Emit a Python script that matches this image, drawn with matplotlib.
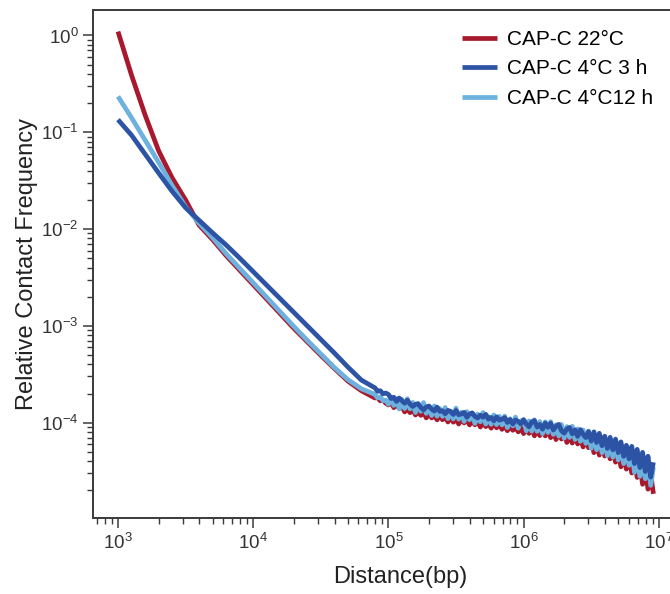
import numpy as np
import matplotlib
matplotlib.use('Agg')
import matplotlib.pyplot as plt

plt.rcParams['font.family'] = ['Liberation Sans', 'DejaVu Sans']
plt.rcParams['mathtext.fontset'] = 'custom'
plt.rcParams['mathtext.rm'] = 'Liberation Sans'
plt.rcParams['mathtext.it'] = 'Liberation Sans:italic'
plt.rcParams['mathtext.bf'] = 'Liberation Sans:bold'
plt.rcParams['axes.unicode_minus'] = False

# ---- data: log10(distance, bp) and log10(relative contact frequency) ----
log_distance = [
    3.0, 3.1, 3.2, 3.3, 3.4, 3.5, 3.6, 3.7, 3.8, 3.9, 4.0, 4.1, 4.2, 4.3, 4.4, 4.5,
    4.6, 4.7, 4.8,
    4.90, 4.92, 4.94, 4.96, 4.98, 5.00, 5.02, 5.04, 5.06, 5.08,
    5.10, 5.12, 5.14, 5.16, 5.18, 5.20, 5.22, 5.24, 5.26, 5.28,
    5.30, 5.32, 5.34, 5.36, 5.38, 5.40, 5.42, 5.44, 5.46, 5.48,
    5.50, 5.52, 5.54, 5.56, 5.58, 5.60, 5.62, 5.64, 5.66, 5.68,
    5.70, 5.72, 5.74, 5.76, 5.78, 5.80, 5.82, 5.84, 5.86, 5.88,
    5.90, 5.92, 5.94, 5.96, 5.98, 6.00, 6.02, 6.04, 6.06, 6.08,
    6.10, 6.12, 6.14, 6.16, 6.18, 6.20, 6.22, 6.24, 6.26, 6.28,
    6.30, 6.32, 6.34, 6.36, 6.38, 6.40, 6.42, 6.44, 6.46, 6.48,
    6.50, 6.52, 6.54, 6.56, 6.58, 6.60, 6.62, 6.64, 6.66, 6.68,
    6.70, 6.72, 6.74, 6.76, 6.78, 6.80, 6.82, 6.84, 6.86, 6.88,
    6.90, 6.92, 6.94, 6.96,
]

log_freq_22C = [
    0.040, -0.410, -0.820, -1.190, -1.470, -1.700, -1.960, -2.110, -2.275, -2.425,
    -2.575, -2.725, -2.875, -3.025, -3.165, -3.305, -3.440, -3.570, -3.670,
    -3.745, -3.741, -3.775, -3.767, -3.799, -3.817, -3.791, -3.845, -3.810, -3.854,
    -3.825, -3.889, -3.856, -3.897, -3.864, -3.921, -3.887, -3.925, -3.885, -3.951,
    -3.909, -3.951, -3.927, -3.971, -3.927, -3.970, -3.939, -3.993, -3.949, -3.995,
    -3.963, -4.014, -3.963, -4.003, -3.965, -4.023, -3.984, -4.023, -3.983, -4.045,
    -3.997, -4.041, -4.011, -4.057, -4.006, -4.053, -4.019, -4.069, -4.033, -4.083,
    -4.033, -4.079, -4.047, -4.095, -4.053, -4.113, -4.049, -4.111, -4.047, -4.136,
    -4.070, -4.134, -4.065, -4.137, -4.069, -4.155, -4.093, -4.175, -4.098, -4.169,
    -4.115, -4.205, -4.137, -4.211, -4.134, -4.220, -4.161, -4.251, -4.169, -4.259,
    -4.185, -4.310, -4.210, -4.335, -4.222, -4.345, -4.234, -4.374, -4.264, -4.408,
    -4.310, -4.456, -4.333, -4.480, -4.356, -4.520, -4.383, -4.566, -4.439, -4.637,
    -4.480, -4.687, -4.523, -4.735,
]

log_freq_4C_3h = [
    -0.870, -1.030, -1.225, -1.420, -1.610, -1.780, -1.910, -2.040, -2.165, -2.300,
    -2.440, -2.580, -2.720, -2.860, -3.000, -3.140, -3.280, -3.425, -3.560,
    -3.640, -3.676, -3.670, -3.702, -3.694, -3.708, -3.751, -3.738, -3.781, -3.746,
    -3.773, -3.799, -3.768, -3.808, -3.833, -3.810, -3.806, -3.844, -3.868, -3.838,
    -3.828, -3.860, -3.880, -3.840, -3.884, -3.877, -3.909, -3.873, -3.884, -3.916,
    -3.874, -3.918, -3.910, -3.894, -3.944, -3.910, -3.900, -3.936, -3.952, -3.922,
    -3.944, -3.914, -3.964, -3.946, -3.982, -3.940, -3.974, -3.966, -3.948, -3.998,
    -3.968, -4.014, -3.972, -3.988, -4.014, -3.970, -4.014, -4.043, -3.992, -3.978,
    -4.045, -4.019, -4.068, -4.004, -4.048, -4.005, -4.076, -4.037, -4.018, -4.084,
    -4.108, -4.066, -4.050, -4.116, -4.074, -4.142, -4.072, -4.121, -4.154, -4.092,
    -4.190, -4.095, -4.205, -4.110, -4.238, -4.140, -4.267, -4.152, -4.281, -4.170,
    -4.310, -4.199, -4.348, -4.234, -4.374, -4.245, -4.423, -4.276, -4.464, -4.307,
    -4.505, -4.347, -4.563, -4.410,
]

log_freq_4C_12h = [
    -0.630, -0.850, -1.080, -1.310, -1.550, -1.770, -1.940, -2.090, -2.255, -2.405,
    -2.555, -2.705, -2.855, -3.005, -3.150, -3.290, -3.430, -3.555, -3.650,
    -3.708, -3.744, -3.734, -3.774, -3.766, -3.810, -3.736, -3.822, -3.753, -3.859,
    -3.760, -3.854, -3.753, -3.857, -3.791, -3.895, -3.801, -3.882, -3.793, -3.904,
    -3.835, -3.926, -3.827, -3.933, -3.854, -3.935, -3.844, -3.958, -3.882, -3.961,
    -3.850, -3.964, -3.893, -3.987, -3.886, -3.970, -3.899, -4.008, -3.912, -3.991,
    -3.895, -4.014, -3.938, -4.017, -3.921, -4.020, -3.934, -4.023, -3.932, -4.051,
    -3.960, -4.034, -3.943, -4.057, -3.981, -3.970, -4.084, -3.983, -4.087, -3.971,
    -4.090, -3.989, -4.113, -3.992, -4.101, -3.990, -4.121, -4.022, -4.138, -4.019,
    -4.160, -4.041, -4.152, -4.038, -4.174, -4.065, -4.193, -4.076, -4.214, -4.087,
    -4.265, -4.120, -4.280, -4.135, -4.310, -4.165, -4.342, -4.179, -4.356, -4.198,
    -4.385, -4.234, -4.423, -4.252, -4.441, -4.290, -4.513, -4.331, -4.554, -4.357,
    -4.580, -4.397, -4.648, -4.460,
]

series_labels = ['CAP-C 22°C', 'CAP-C 4°C 3 h', 'CAP-C 4°C12 h']
series_colors = ['#a8192e', '#2d53a5', '#6db2df']

distance = 10 ** np.array(log_distance)
freqs = [10 ** np.array(v) for v in (log_freq_22C, log_freq_4C_3h, log_freq_4C_12h)]

W, H = 670, 594
fig = plt.figure(figsize=(W / 100, H / 100), dpi=100)
left, right, top, bottom = 93, 670, 10, 518
ax = fig.add_axes([left / W, (H - bottom) / H, (right - left) / W, (bottom - top) / H])

# draw order: red bottom, light blue middle, dark blue on top
zorders = [2, 4, 3]
handles = []
for f, lab, col, z in zip(freqs, series_labels, series_colors, zorders):
    h, = ax.plot(distance, f, color=col, lw=3.4, label=lab, zorder=z,
                 solid_joinstyle='round', solid_capstyle='butt')
    handles.append(h)

ax.set_xscale('log')
ax.set_yscale('log')
px_per_dec_x = 135.2
px_per_dec_y = 96.8
ax.set_xlim(10 ** (3 - 25 / px_per_dec_x), 10 ** (3 + (right - 118) / px_per_dec_x))
ylo = -4.985
ax.set_ylim(10 ** ylo, 10 ** (ylo + (bottom - top) / px_per_dec_y))

spine_col = '#3a3a3a'
ax.spines['right'].set_visible(False)
for s in ('left', 'top', 'bottom'):
    ax.spines[s].set_color(spine_col)
    ax.spines[s].set_linewidth(1.4)

ax.tick_params(which='major', direction='out', length=7.5, width=1.1,
               color=spine_col, labelsize=13.5, labelcolor='#333333', pad=3)
ax.tick_params(which='minor', direction='out', length=4, width=1.0, color=spine_col)
ax.tick_params(axis='x', which='both', top=False)
ax.tick_params(axis='y', which='both', right=False)

ax.set_xlabel('Distance(bp)', fontsize=17, color='#222222')
ax.set_ylabel('Relative Contact Frequency', fontsize=17, color='#222222')
ax.xaxis.set_label_coords((400 - left) / (right - left), -(566 - bottom) / (bottom - top))
ax.yaxis.set_label_coords(-(93 - 38) / (right - left), 0.5)

ax.legend(handles, series_labels, loc='upper left',
          bbox_to_anchor=(462 / W, 1 - 30 / H), bbox_transform=fig.transFigure,
          frameon=False, fontsize=15, handlelength=1.7, handletextpad=0.45,
          labelspacing=0.5, borderpad=0, borderaxespad=0)

fig.savefig('out.png', dpi=100)
